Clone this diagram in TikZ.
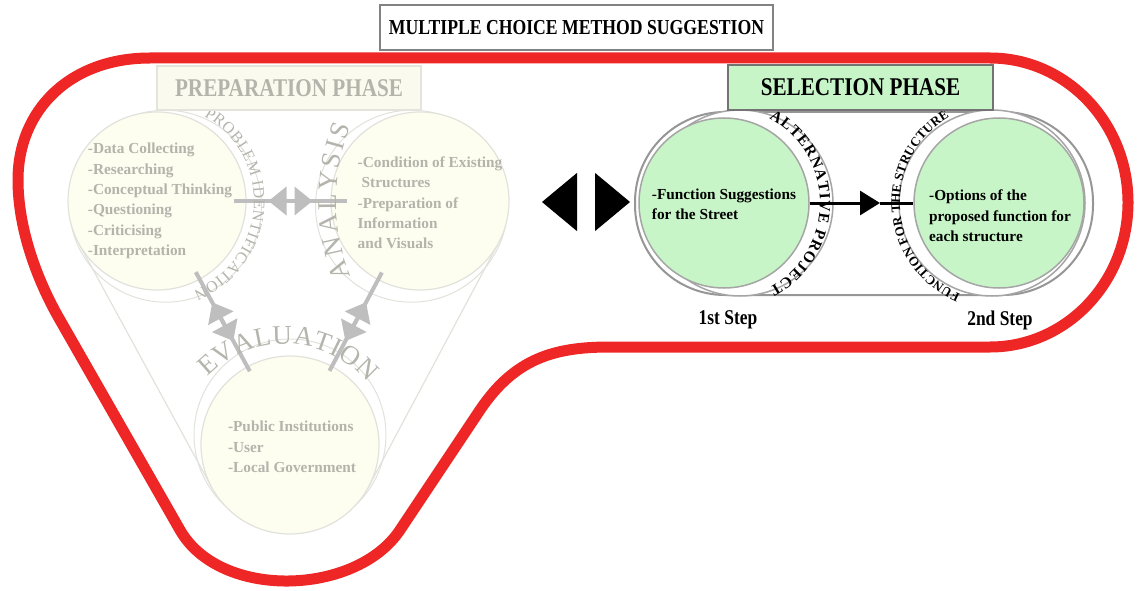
\documentclass[tikz,border=0pt]{standalone}
\usepackage{fontspec}
\setmainfont{Liberation Serif}
\newfontfamily\condfont{Liberation Serif}[FakeStretch=0.83]
\usetikzlibrary{arrows.meta,calc,decorations.text}

\definecolor{loopred}{RGB}{238,38,38}
\definecolor{titleline}{RGB}{130,130,130}
\definecolor{fadetxt}{RGB}{180,180,172}
\definecolor{fadeline}{RGB}{226,226,220}
\definecolor{fadefill}{RGB}{253,253,240}
\definecolor{fadearr}{RGB}{190,190,190}
\definecolor{prepfill}{RGB}{250,250,238}
\definecolor{prepline}{RGB}{228,228,218}
\definecolor{selgreen}{RGB}{200,245,200}
\definecolor{sboxline}{RGB}{115,115,115}
\definecolor{stadline}{RGB}{150,150,150}
\definecolor{ringline}{RGB}{165,165,165}

\newcommand{\bodytxt}{\fontsize{15.3}{20.3}\selectfont\bfseries}
\newcommand{\headtxt}{\condfont\bfseries\fontsize{25.5}{28}\selectfont}
\newcommand{\fadecurvefont}{\fontsize{16}{16}\selectfont\color{fadetxt}}
\newcommand{\fadebigfont}{\fontsize{27}{27}\selectfont\color{fadetxt}}
\newcommand{\selcurvefont}{\fontsize{15.5}{15.5}\selectfont\bfseries}
\newcommand{\selsmallfont}{\fontsize{13}{13}\selectfont\bfseries}

\begin{document}
\begin{tikzpicture}[x=1pt, y=1pt,
  redring/.style={draw=loopred, line width=11pt, line join=round},
  tbox/.style={draw=titleline, line width=1.5pt, fill=white, inner sep=0pt,
               minimum width=393pt, minimum height=45pt,
               font=\condfont\bfseries\fontsize{21.3}{24}\selectfont},
  pbox/.style={draw=prepline, line width=1.5pt, fill=prepfill, inner sep=0pt,
               minimum width=264pt, minimum height=44pt, text=fadetxt, font=\headtxt},
  sbox/.style={draw=sboxline, line width=1.5pt, fill=selgreen, inner sep=0pt,
               minimum width=265pt, minimum height=45pt, font=\headtxt},
  pring/.style={circle, draw=fadeline, line width=1pt, fill=white,
                minimum size=192pt, inner sep=0pt},
  pcirc/.style={circle, draw=fadeline, line width=1.2pt, fill=fadefill,
                minimum size=178pt, inner sep=0pt},
  hull/.style={draw=fadeline, line width=1.2pt},
  ptxt/.style={align=left, inner sep=0pt, text=fadetxt, font=\bodytxt},
  stxt/.style={align=left, inner sep=0pt, font=\bodytxt},
  gline/.style={draw=fadearr, line width=4pt},
  gtips/.style={gline, {Triangle[length=18pt,width=28pt]}-{Triangle[length=18pt,width=28pt]}},
  stad/.style={draw=stadline, line width=2pt, fill=white, rounded corners=90pt,
               minimum width=458pt, minimum height=183pt, inner sep=0pt},
  sring/.style={circle, draw=ringline, line width=1.5pt, fill=white,
                minimum size=186pt, inner sep=0pt},
  scirc/.style={circle, draw=ringline, line width=1.5pt, fill=selgreen,
                minimum size=170pt, inner sep=0pt},
  sline/.style={black, line width=3pt},
  steptxt/.style={inner sep=0pt, font=\condfont\bfseries\fontsize{21}{24}\selectfont},
  bigtips/.style={white, line width=1pt,
                  {Triangle[length=35pt,width=58pt,color=black]}-{Triangle[length=35pt,width=58pt,color=black]}},
  curvetxt/.style={decorate, decoration={text along path, text align={fit to path}, text={#1}}},
]
\useasboundingbox (0,0) rectangle (1139,590);

% outer loop
\draw[redring] (150,532) -- (990,532)
  arc[start angle=90, end angle=-90, x radius=138, y radius=144.5]
  -- (610,243) .. controls (555,243) and (515,232) .. (480,180)
  -- (400,60) .. controls (356,-6) and (220,-10) .. (180,60)
  -- (60,270) .. controls (38,308) and (18,360) .. (18,410)
  .. controls (18,480) and (70,532) .. (150,532) -- cycle;

\node[tbox] (title) at (576.5,562.5) {MULTIPLE CHOICE METHOD SUGGESTION};

% preparation phase
\node[pring] (Ar) at (165.5,383.8) {};
\node[pring] (Br) at (411.5,383.8) {};
\node[pring] (Cr) at (290,155) {};
\coordinate (A) at (157,389);
\coordinate (B) at (420,389);
\coordinate (C) at (290,145);
\draw[hull] ($(A)!89pt!-90:(C)$) -- ($(C)!89pt!90:(A)$);
\draw[hull] ($(B)!89pt!90:(C)$) -- ($(C)!89pt!-90:(B)$);
\node[pcirc] (pa) at (A) {};
\node[pcirc] (pb) at (B) {};
\node[pcirc] (pc) at (C) {};

\coordinate (ab1) at ($(A)!77pt!(B)$);
\coordinate (ab2) at ($(B)!73pt!(A)$);
\coordinate (abm) at ($(ab1)!0.5!(ab2)$);
\coordinate (ac1) at ($(A)!81pt!(C)$);
\coordinate (ac2) at ($(C)!84pt!(A)$);
\coordinate (acm) at ($(ac1)!0.5!(ac2)$);
\coordinate (bc1) at ($(B)!81pt!(C)$);
\coordinate (bc2) at ($(C)!84pt!(B)$);
\coordinate (bcm) at ($(bc1)!0.5!(bc2)$);
\draw[gline] (ab1) -- (ab2);
\draw[gtips] ($(abm)!22pt!(ab1)$) -- ($(abm)!22pt!(ab2)$);
\draw[gline] (ac1) -- (ac2);
\draw[gtips] ($(acm)!22pt!(ac1)$) -- ($(acm)!22pt!(ac2)$);
\draw[gline] (bc1) -- (bc2);
\draw[gtips] ($(bcm)!22pt!(bc1)$) -- ($(bcm)!22pt!(bc2)$);

\path[curvetxt={|\fadecurvefont|PROBLEM IDENTIFICATION}]
  ($(A)+(61:97)$) arc[start angle=61, end angle=-68, radius=97];
\path[curvetxt={|\fadebigfont|ANALYSIS}]
  ($(B)+(116,0)+(202:200)$) arc[start angle=202, end angle=158, radius=200];
\path[curvetxt={|\fadebigfont|EVALUATION}]
  ($(C)+(-5,-7)+(136:108)$) arc[start angle=136, end angle=40, radius=108];

\node[ptxt] (ta) at ($(A)+(3,0)$) {-Data Collecting\\-Researching\\-Conceptual Thinking\\
  -Questioning\\-Criticising\\-Interpretation};
\node[ptxt] (tb) at ($(B)+(10,-2)$) {-Condition of Existing\\\hspace*{4pt}Structures\\
  -Preparation of\\Information\\and Visuals};
\node[ptxt] (tc) at ($(C)+(2,-2)$) {-Public Institutions\\-User\\-Local Government};

\node[pbox] (prep) at (289,502) {PREPARATION PHASE};

% middle arrows
\coordinate (dl) at (542,388);
\coordinate (dr) at (630,388);
\draw[bigtips] (dl) -- (dr);

% selection phase
\node[stad] (st) at (864,386.5) {};
\node[sring] (s1r) at (740,387) {};
\node[sring] (s2r) at (992,387) {};
\node[scirc] (s1) at (724,387) {};
\node[scirc] (s2) at (999,387) {};
\coordinate (sx) at (880,387);
\draw[sline, -{Triangle[length=20pt,width=24pt]}] (s1.east) -- (sx);
\draw[sline] (sx) -- (s2.west);

\path[curvetxt={|\selcurvefont|ALTERNATIVE PROJECT}]
  ($(s1)+(62:96)$) arc[start angle=62, end angle=-62, radius=96];
\path[curvetxt={|\selsmallfont|FUNCTION FOR THE STRUCTURE}]
  ($(s2)+(-113:99)$) arc[start angle=-113, end angle=-240, radius=99];

\node[stxt] (t1) at ($(s1)+(0,-1)$) {-Function Suggestions\\for the Street};
\node[stxt] (t2) at ($(s2)+(1,-13)$) {-Options of the\\proposed function for\\each structure};

\node[sbox] (sel) at (860.5,502.5) {SELECTION PHASE};

\node[steptxt] (step1) at (728,270) {1st Step};
\node[steptxt] (step2) at (1000,270) {2nd Step};
\end{tikzpicture}
\end{document}
